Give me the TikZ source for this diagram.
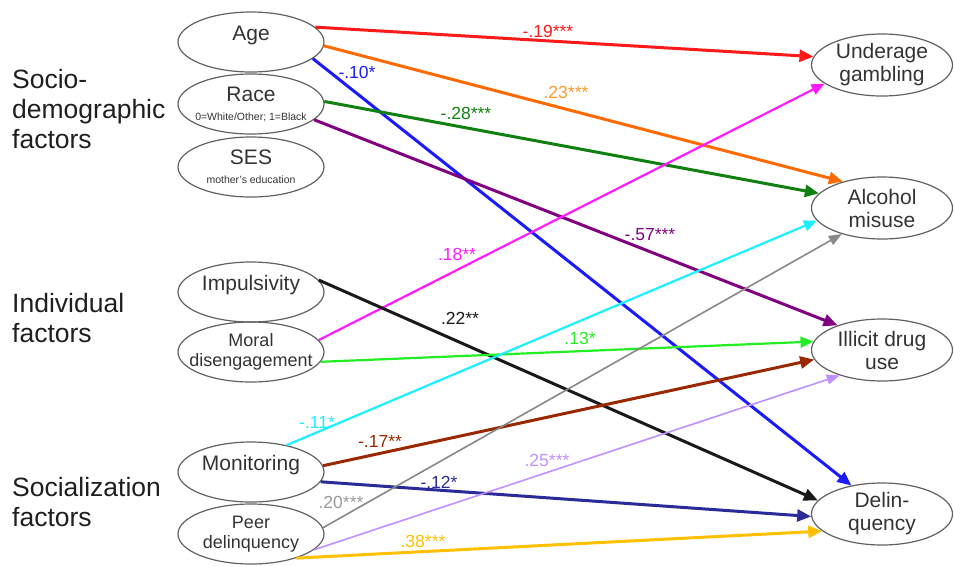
\documentclass[tikz,border=0pt]{standalone}
\usepackage{fontspec}
\setmainfont{Liberation Sans}
\usetikzlibrary{arrows.meta,shapes.geometric}
\definecolor{cRed}{HTML}{FF1A1A}
\definecolor{cOrange}{HTML}{FF6A00}
\definecolor{cOrangeL}{HTML}{FF9A2A}
\definecolor{cBlue}{HTML}{1A1AFF}
\definecolor{cGreen}{HTML}{108010}
\definecolor{cPurple}{HTML}{800080}
\definecolor{cMagenta}{HTML}{FF1AFF}
\definecolor{cLime}{HTML}{22EE22}
\definecolor{cCyan}{HTML}{1AF0FF}
\definecolor{cBrown}{HTML}{992800}
\definecolor{cNavy}{HTML}{2A2A99}
\definecolor{cGray}{HTML}{888888}
\definecolor{cLav}{HTML}{C090FF}
\definecolor{cGold}{HTML}{FFC000}
\begin{document}
\begin{tikzpicture}[x=1pt,y=-1pt,
  oval/.style={ellipse, draw=black!62, line width=1.2pt, minimum width=146pt, minimum height=60pt,
    inner sep=0pt, align=center, font=\fontsize{21}{23}\selectfont, text=black!80},
  roval/.style={oval, minimum width=141pt, minimum height=62pt},
  one/.style={text height=15pt, text depth=18pt},
  small/.style={font=\fontsize{18}{20}\selectfont},
  fat/.style={line width=3pt, -{Triangle[length=14pt,width=12pt]}},
  slim/.style={line width=2.2pt, -{Triangle[length=13pt,width=11pt]}},
  hair/.style={line width=1.6pt, -{Triangle[length=13pt,width=10pt]}},
  coef/.style={font=\fontsize{17.5}{18}\selectfont, inner sep=0pt},
  grp/.style={font=\fontsize{26.5}{30}\selectfont, align=left, anchor=west, text=black!88, inner sep=0pt}
]
\useasboundingbox (0,0) rectangle (954,566);

% group labels
\node[grp] (g1) at (12,109) {Socio-\\demographic\\factors};
\node[grp] (g2) at (12,318) {Individual\\factors};
\node[grp] (g3) at (12,502) {Socialization\\factors};

% left nodes
\node[oval,one] (age) at (251,42) {\makebox[0pt]{Age}};
\node[oval] (race) at (251,104) {Race\\[-4pt]\makebox[0pt]{\fontsize{10.5}{11}\selectfont 0=White/Other; 1=Black}};
\node[oval] (ses) at (251,167) {SES\\[-4pt]\makebox[0pt]{\fontsize{10.5}{11}\selectfont mother's education}};
\node[oval,one] (imp) at (251,292) {\makebox[0pt]{Impulsivity}};
\node[oval,small] (moral) at (251,352) {Moral\\\makebox[0pt]{disengagement}};
\node[oval,one] (mon) at (251,472) {\makebox[0pt]{Monitoring}};
\node[oval,small] (peer) at (251,534) {Peer\\\makebox[0pt]{delinquency}};

% right nodes
\node[roval] (gamb) at (882,65) {Underage\\gambling};
\node[roval] (alc) at (882,208) {Alcohol\\misuse};
\node[roval] (drug) at (882,350) {Illicit drug\\use};
\node[roval] (delq) at (882,514) {Delin-\\quency};

% connectors
\draw[fat,cRed] (age.13) -- (gamb.173);
\draw[fat,cOrange] (age.-3) -- (alc.146);
\draw[fat,cBlue] (age.-15) -- (delq.137);
\draw[fat,cGreen] (race.2) -- (alc.167);
\draw[fat,cPurple] (race.-14) -- (drug.151);
\draw[slim,cMagenta] (moral.10) -- (gamb.198);
\draw[fat,black!90] (imp.10) -- (delq.168);
\draw[slim,cLime] (moral.-8) -- (drug.173);
\draw[slim,cCyan] (mon.37) -- (alc.191);
\draw[fat,cBrown] (mon.5) -- (drug.188);
\draw[fat,cNavy] (mon.-8) -- (delq.182);
\draw[hair,cGray] (peer.5) -- (alc.213);
\draw[hair,cLav] (peer.-14) -- (drug.211);
\draw[fat,cGold] (peer.-28) -- (delq.196);

% coefficients
\node[coef,text=cRed] (l19) at (548,31) {-.19***};
\node[coef,text=cOrangeL] (l23) at (566,92) {.23***};
\node[coef,text=cBlue] (l10) at (357,72) {-.10*};
\node[coef,text=cGreen] (l28) at (466,113) {-.28***};
\node[coef,text=cPurple] (l57) at (650,235) {-.57***};
\node[coef,text=cMagenta] (l18) at (457,254) {.18**};
\node[coef,text=black!90] (l22) at (460,318) {.22**};
\node[coef,text=cLime] (l13) at (580,338) {.13*};
\node[coef,text=cCyan] (l11) at (317,422) {-.11*};
\node[coef,text=cBrown] (l17) at (380,441) {-.17**};
\node[coef,text=cNavy] (l12) at (439,482) {-.12*};
\node[coef,text=cGray!85] (l20) at (341,502) {.20***};
\node[coef,text=cLav] (l25) at (547,460) {.25***};
\node[coef,text=cGold] (l38) at (423,541) {.38***};
\end{tikzpicture}
\end{document}
